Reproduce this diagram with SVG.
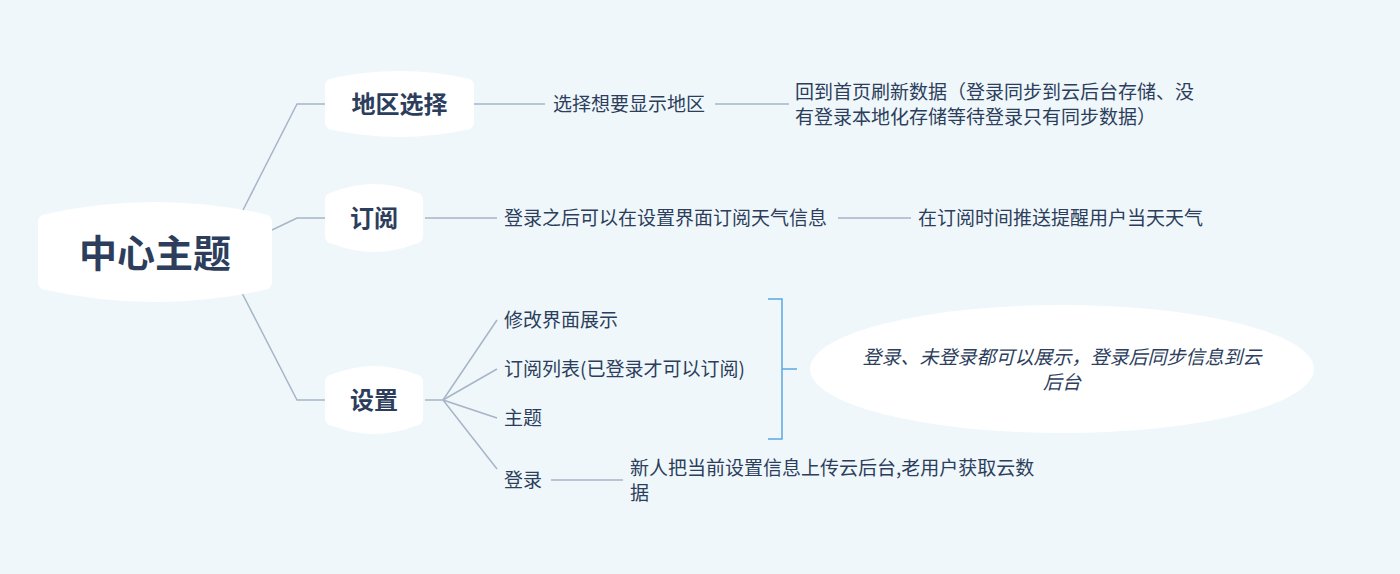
<svg xmlns="http://www.w3.org/2000/svg" width="1400" height="574" viewBox="0 0 1400 574">
<style>
text{font-family:"Noto Sans CJK SC","Noto Sans",sans-serif;fill:#2c3e5c;dominant-baseline:central}
.t{font-size:19px}
.b{font-size:24px;font-weight:bold;text-anchor:middle}
.node{fill:#ffffff}
.ln{fill:none;stroke:#a7b5c8;stroke-width:1.5}
.br{fill:none;stroke:#5aa8e2;stroke-width:1.5}
</style>
<rect width="1400" height="574" fill="#eff7fa"/>
<g id="connectors">
<polyline class="ln" points="242,212 297,104 325,104"/>
<polyline class="ln" points="272,230 297,218 325,218"/>
<polyline class="ln" points="242,293 297,400 325,400"/>
<line class="ln" x1="474" y1="104" x2="545" y2="104"/>
<line class="ln" x1="715" y1="104" x2="789" y2="104"/>
<line class="ln" x1="425" y1="218" x2="497" y2="218"/>
<line class="ln" x1="838" y1="218" x2="911" y2="218"/>
<line class="ln" x1="425" y1="400" x2="443" y2="400"/>
<line class="ln" x1="443" y1="400" x2="497" y2="320"/>
<line class="ln" x1="443" y1="400" x2="497" y2="369"/>
<line class="ln" x1="443" y1="400" x2="497" y2="418"/>
<line class="ln" x1="443" y1="400" x2="497" y2="469"/>
<line class="ln" x1="551" y1="480" x2="623" y2="480"/>
<polyline class="br" points="768,299 782,299 782,439 768,439"/>
<line class="br" x1="782" y1="369" x2="797" y2="369"/>
</g>
<g id="center">
<path class="node" d="M38,222 Q38,215 46,214 Q155,190 264,214 Q272,215 272,222 L272,282 Q272,289 264,290 Q155,314 46,290 Q38,289 38,282 Z"/>
<text x="155" y="250" style="font-size:38px;font-weight:bold;text-anchor:middle">中心主题</text>
</g>
<g id="n-region">
<path class="node" d="M325,86 Q325,79 333,78 Q399,64 466,78 Q474,79 474,86 L474,122 Q474,129 466,130 Q399,144 333,130 Q325,129 325,122 Z"/>
<text class="b" x="399.500" y="102">地区选择</text>
</g>
<g id="n-subscribe">
<path class="node" d="M325,200 Q325,193 333,192 Q374,176 415,192 Q423,193 423,200 L423,236 Q423,243 415,244 Q374,260 333,244 Q325,243 325,236 Z"/>
<text class="b" x="374" y="216">订阅</text>
</g>
<g id="n-settings">
<path class="node" d="M325,382 Q325,375 333,374 Q374,358 415,374 Q423,375 423,382 L423,418 Q423,425 415,426 Q374,442 333,426 Q325,425 325,418 Z"/>
<text class="b" x="374" y="398">设置</text>
</g>
<g id="n-r1"><text class="t" x="553" y="102">选择想要显示地区</text></g>
<g id="n-r2">
<text class="t" x="795" y="90">回到首页刷新数据（登录同步到云后台存储、没</text>
<text class="t" x="795" y="115">有登录本地化存储等待登录只有同步数据）</text>
</g>
<g id="n-s1"><text class="t" x="504" y="216">登录之后可以在设置界面订阅天气信息</text></g>
<g id="n-s2"><text class="t" x="918" y="216">在订阅时间推送提醒用户当天天气</text></g>
<g id="n-c1"><text class="t" x="504" y="318">修改界面展示</text></g>
<g id="n-c2"><text class="t" x="504" y="367">订阅列表(已登录才可以订阅)</text></g>
<g id="n-c3"><text class="t" x="504" y="416">主题</text></g>
<g id="n-c4"><text class="t" x="504" y="478">登录</text></g>
<g id="n-c5">
<text class="t" x="630" y="466">新人把当前设置信息上传云后台,老用户获取云数</text>
<text class="t" x="630" y="491">据</text>
</g>
<g id="n-note">
<ellipse class="node" cx="1062" cy="369" rx="252" ry="64"/>
<text class="t" x="1062" y="355" style="font-style:italic;text-anchor:middle">登录、未登录都可以展示，登录后同步信息到云</text>
<text class="t" x="1062" y="380" style="font-style:italic;text-anchor:middle">后台</text>
</g>
</svg>
